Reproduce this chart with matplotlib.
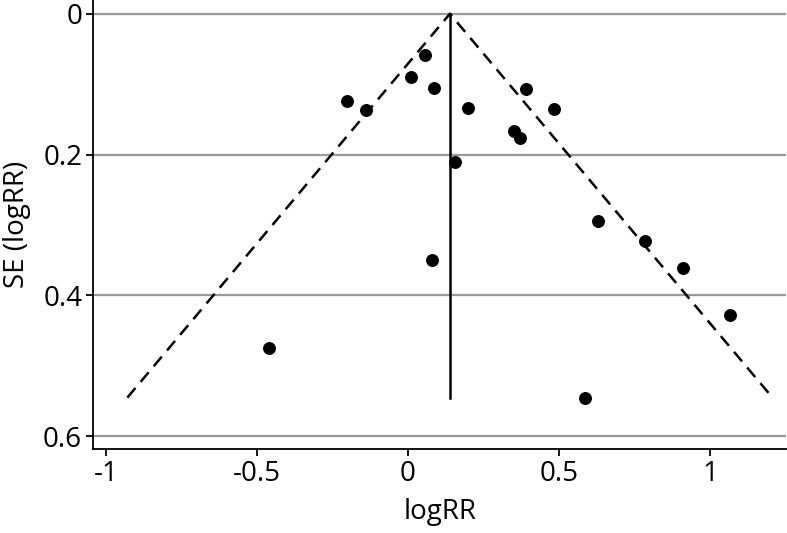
import numpy as np
import matplotlib
matplotlib.use("Agg")
import matplotlib.pyplot as plt

plt.rcParams["font.family"] = ["Open Sans", "DejaVu Sans"]

# study estimates
log_rr = [0.057, 0.010, 0.085, -0.201, -0.139, 0.199, 0.390, 0.484, 0.351, 0.372,
          0.156, 0.078, 0.631, 0.785, 0.910, 1.066, 0.587, -0.460]
se = [0.059, 0.090, 0.105, 0.124, 0.136, 0.134, 0.107, 0.135, 0.167, 0.176,
      0.211, 0.350, 0.294, 0.322, 0.361, 0.428, 0.545, 0.475]

pooled = 0.139
se_max = 0.545
x_ticks = [-1, -0.5, 0, 0.5, 1]
x_tick_labels = ["-1", "-0.5", "0", "0.5", "1"]
y_ticks = [0, 0.2, 0.4, 0.6]
y_tick_labels = ["0", "0.2", "0.4", "0.6"]

fig = plt.figure(figsize=(7.87, 5.33), dpi=100)
ax = fig.add_axes([0.1186, 0.1576, 0.8801, 0.8424])

for y in y_ticks:
    ax.axhline(y, color="#999999", lw=1.6, zorder=1)

# pseudo 95% confidence limits
ax.plot([pooled - 1.96 * se_max, pooled, pooled + 1.96 * se_max], [se_max, 0, se_max],
        color="black", lw=1.8, ls=(0, (5, 3.2)), zorder=2)
ax.plot([pooled, pooled], [0, se_max], color="black", lw=1.8, zorder=2)

ax.plot(log_rr, se, "o", color="black", markersize=8.3, zorder=3)

ax.set_xlim(-1.042, 1.252)
ax.set_ylim(0.618, -0.0195)
ax.set_xticks(x_ticks)
ax.set_xticklabels(x_tick_labels)
ax.set_yticks(y_ticks)
ax.set_yticklabels(y_tick_labels)
ax.tick_params(labelsize=20, length=5, width=1.3, pad=3)

for side in ["top", "right"]:
    ax.spines[side].set_visible(False)
for side in ["left", "bottom"]:
    ax.spines[side].set_linewidth(1.3)

ax.set_xlabel("logRR", fontsize=20, labelpad=7)
ax.set_ylabel("SE (logRR)", fontsize=20, labelpad=9)

fig.savefig("out.png", dpi=100)
